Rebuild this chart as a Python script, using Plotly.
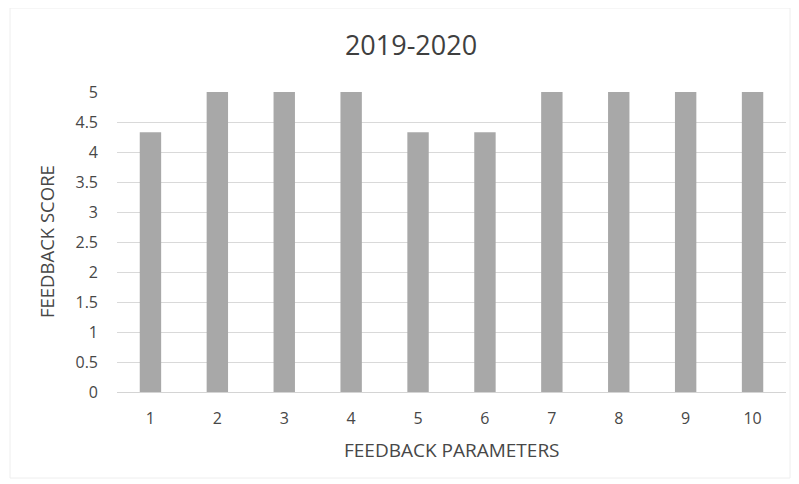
import plotly.graph_objects as go

categories = ["1", "2", "3", "4", "5", "6", "7", "8", "9", "10"]
scores = [4.33, 5, 5, 5, 4.33, 4.33, 5, 5, 5, 5]
y_ticks = [0, 0.5, 1, 1.5, 2, 2.5, 3, 3.5, 4, 4.5, 5]
y_tick_labels = ["0", "0.5", "1", "1.5", "2", "2.5", "3", "3.5", "4", "4.5", "5"]

FONT = "Open Sans"
TXT = "#474747"

# page body has an 8px margin, so figure is 791x476 placed at (8, 8)
W, H = 791, 476
L, R, T, B = 109, 13, 84, 92
PW = W - L - R
PH = H - T - B

fig = go.Figure(
    go.Bar(x=categories, y=scores, marker=dict(color="#a8a8a8", line=dict(width=0)))
)

fig.update_layout(
    width=W,
    height=H,
    paper_bgcolor="white",
    plot_bgcolor="white",
    margin=dict(l=L, r=R, t=T, b=B),
    bargap=0.68,
    showlegend=False,
    font=dict(family=FONT, color=TXT, size=16),
    title=dict(
        text="2019-2020",
        x=(411 - 8) / W,
        xanchor="center",
        y=1 - (46 - 8) / H,
        yanchor="middle",
        font=dict(family=FONT, size=27, color="#3f3f3f"),
    ),
)

fig.update_xaxes(
    type="category",
    showgrid=False,
    showline=False,
    zeroline=False,
    ticks="",
    ticklabelstandoff=15,
    tickfont=dict(family=FONT, size=16, color=TXT),
)
fig.update_yaxes(
    range=[0, 5],
    tickvals=y_ticks,
    ticktext=y_tick_labels,
    showgrid=True,
    gridcolor="#d9d9d9",
    gridwidth=1,
    zeroline=True,
    zerolinecolor="#d4d4d4",
    zerolinewidth=1,
    showline=False,
    ticks="",
    ticklabelstandoff=18,
    tickfont=dict(family=FONT, size=16, color=TXT),
)

fig.add_annotation(
    text="FEEDBACK SCORE",
    xref="paper", yref="paper",
    x=(46 - 8 - L) / PW, y=0.5,
    xanchor="center", yanchor="middle",
    textangle=-90, showarrow=False,
    font=dict(family=FONT, size=18.5, color=TXT),
)
fig.add_annotation(
    text="FEEDBACK PARAMETERS",
    xref="paper", yref="paper",
    x=(452 - 8 - L) / PW, y=-(450 - 392) / PH,
    xanchor="center", yanchor="middle",
    showarrow=False,
    font=dict(family=FONT, size=19, color=TXT),
)

fig.add_shape(
    type="rect", xref="paper", yref="paper",
    x0=(10 - 8 - L) / PW, x1=(790 - 8 - L) / PW,
    y0=-(478 - 392) / PH, y1=(392 - 8) / PH,
    line=dict(color="#eeeeee", width=1),
    layer="below",
)

fig.write_html("out.html")
